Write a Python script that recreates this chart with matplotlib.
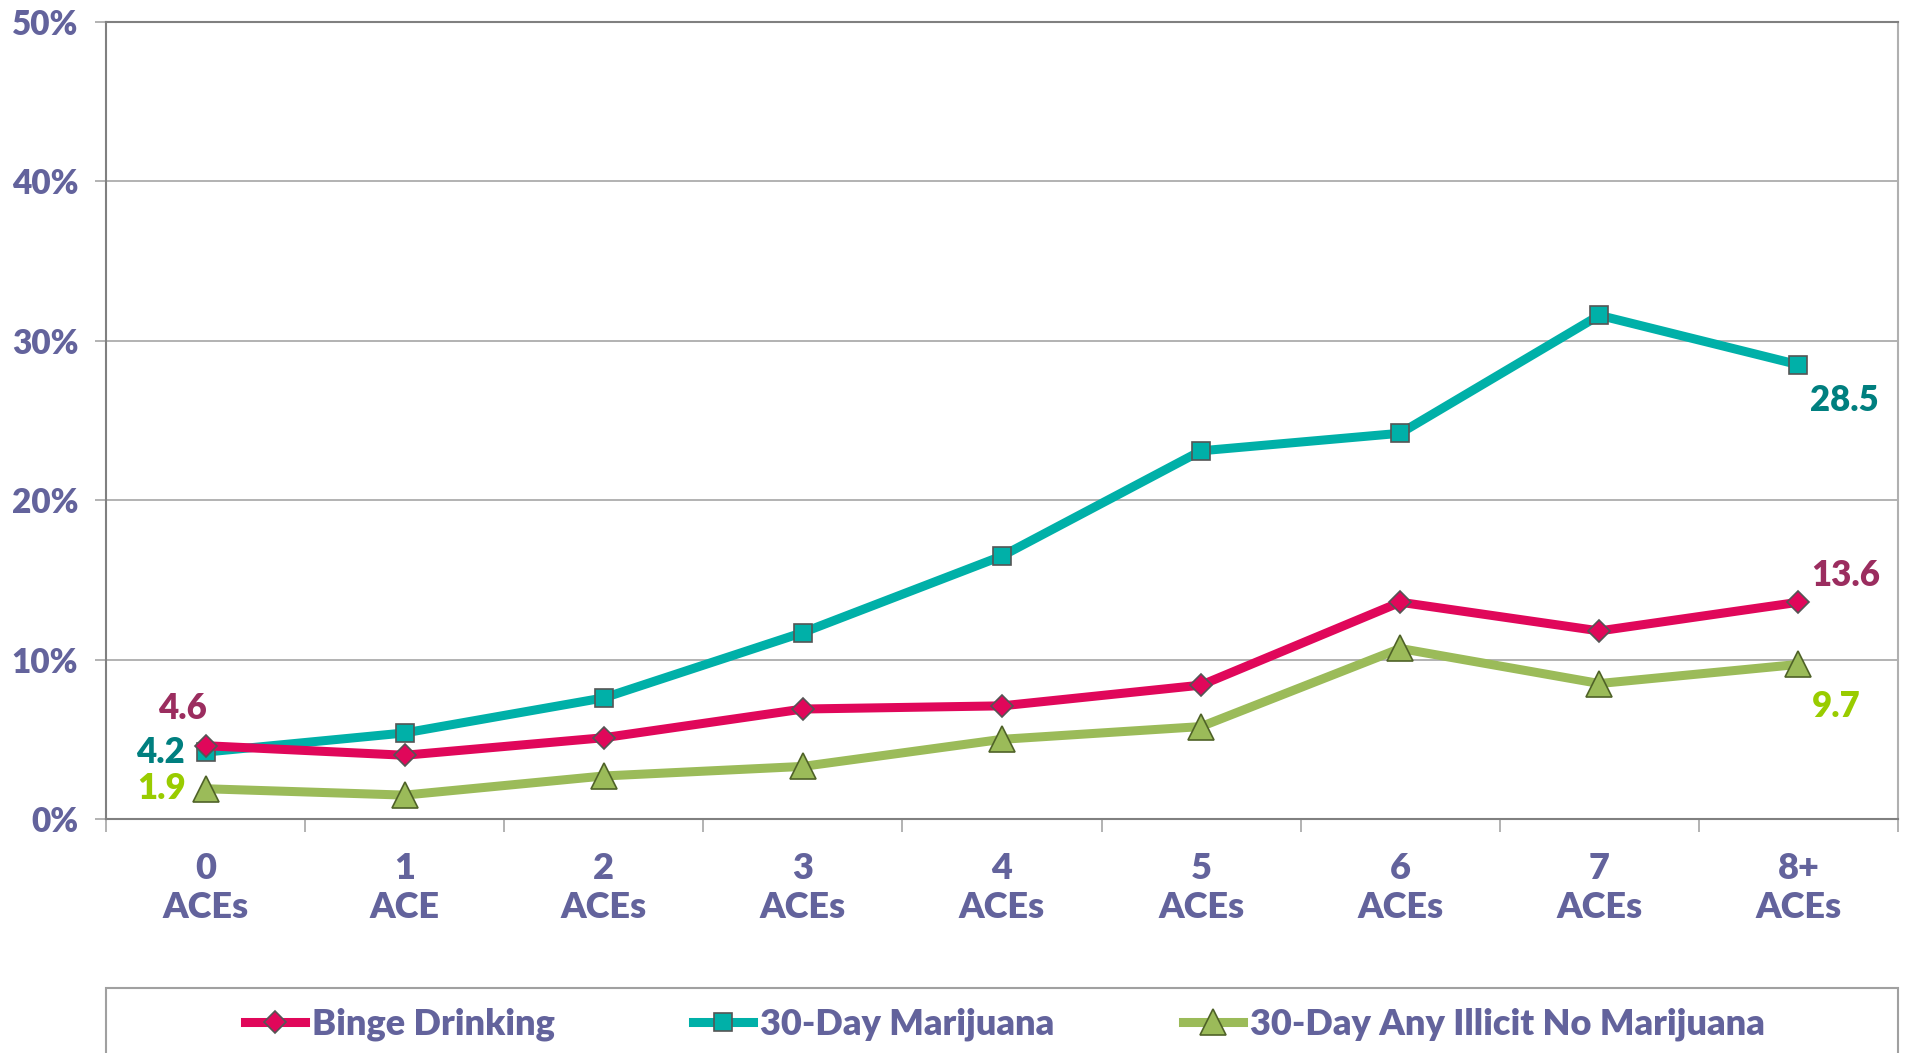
import matplotlib
matplotlib.use("Agg")
import matplotlib.pyplot as plt
from matplotlib.patches import Rectangle
from matplotlib.ticker import FixedLocator, PercentFormatter

plt.rcParams['font.family'] = ['Lato', 'DejaVu Sans']
plt.rcParams['font.weight'] = 'heavy'

categories = ["0\nACEs", "1\nACE", "2\nACEs", "3\nACEs", "4\nACEs",
              "5\nACEs", "6\nACEs", "7\nACEs", "8+\nACEs"]
binge = [4.6, 4.0, 5.1, 6.9, 7.1, 8.4, 13.6, 11.8, 13.6]
marijuana = [4.2, 5.4, 7.6, 11.7, 16.5, 23.1, 24.2, 31.6, 28.5]
illicit = [1.9, 1.5, 2.7, 3.3, 5.0, 5.8, 10.7, 8.5, 9.7]

text_col = '#63639c'
grid_col = '#a6a6a6'
spine_col = '#808080'

fig = plt.figure(figsize=(19.06, 10.53), dpi=100)
ax = fig.add_axes([0.0556, 0.2222, 0.9402, 0.7569])

x = list(range(len(categories)))
l1, = ax.plot(x, binge, color='#e0075a', lw=6.5, marker='D', ms=11,
              mfc='#e0075a', mec='#555555', mew=1.2, zorder=4)
l2, = ax.plot(x, marijuana, color='#00b0a8', lw=6.5, marker='s', ms=13,
              mfc='#00b0a8', mec='#555555', mew=1.2, zorder=3)
l3, = ax.plot(x, illicit, color='#9bbb59', lw=6.5, marker='^', ms=19,
              mfc='#9bbb59', mec='#4f6228', mew=1.2, zorder=5)

ax.set_xlim(-0.5, 8.5)
ax.set_ylim(0, 50)
ax.yaxis.set_major_locator(FixedLocator([0, 10, 20, 30, 40, 50]))
ax.yaxis.set_major_formatter(PercentFormatter(decimals=0))
ax.grid(axis='y', color=grid_col, lw=1.2, zorder=0)
ax.set_axisbelow(True)

ax.set_xticks(x)
ax.set_xticklabels(categories, linespacing=1.2)
ax.set_xticks([i - 0.5 for i in range(len(categories) + 1)], minor=True)
ax.tick_params(axis='x', which='major', length=0, pad=24,
               labelsize=26, labelcolor=text_col)
ax.tick_params(axis='x', which='minor', length=9, width=1.2, color=grid_col)
ax.tick_params(axis='y', length=8, width=1.2, color=grid_col, pad=12,
               labelsize=24, labelcolor=text_col)

for s in ax.spines.values():
    s.set_color(spine_col)
    s.set_linewidth(1.5)
ax.spines['right'].set_color('#b0b0b0')

# data labels at the ends
lab = dict(fontsize=25, fontweight='heavy', textcoords='offset points')
ax.annotate('4.6', (0, binge[0]), xytext=(-17, 27), color='#9b2d5f',
            ha='center', va='center', **lab)
ax.annotate('4.2', (0, marijuana[0]), xytext=(-15, 0), color='#007f7f',
            ha='right', va='center', **lab)
ax.annotate('1.9', (0, illicit[0]), xytext=(-14, 0), color='#99cc00',
            ha='right', va='center', **lab)
ax.annotate('28.5', (8, marijuana[8]), xytext=(33, -26), color='#007f7f',
            ha='center', va='center', **lab)
ax.annotate('13.6', (8, binge[8]), xytext=(34, 19), color='#9b2d5f',
            ha='center', va='center', **lab)
ax.annotate('9.7', (8, illicit[8]), xytext=(27, -30), color='#99cc00',
            ha='center', va='center', **lab)

# legend box running off the bottom
fig.patches.append(Rectangle((106 / 1906, -0.02), 1792 / 1906, 0.02 + 65 / 1053,
                             transform=fig.transFigure, fill=False,
                             edgecolor='#a0a0a0', lw=1.5))
names = ['Binge Drinking', '30-Day Marijuana', '30-Day Any Illicit No Marijuana']
starts = [245, 693, 1183]
for h, name, xs in zip([l1, l2, l3], names, starts):
    fig.legend([h], [name], loc='center left',
               bbox_to_anchor=(xs / 1906, 1 - 1024 / 1053),
               frameon=False, borderpad=0, borderaxespad=0,
               handlelength=1.65, handletextpad=0.2,
               prop={'size': 26, 'weight': 'heavy'}, labelcolor=text_col)

fig.savefig('out.png', dpi=100)
